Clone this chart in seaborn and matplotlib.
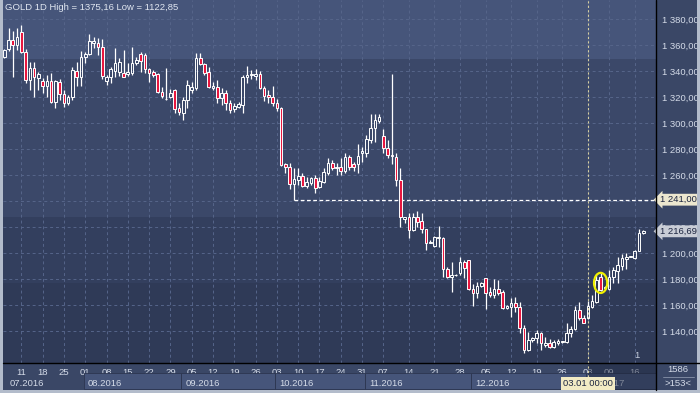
import matplotlib
matplotlib.use("Agg")
import matplotlib.pyplot as plt
import matplotlib.transforms as mtransforms
from matplotlib.patches import Rectangle, Ellipse
from matplotlib.lines import Line2D
import seaborn as sns
import pandas as pd

# Daily GOLD candles, 05.07.2016 .. 18.01.2017
opens = [1350.5, 1356.6, 1363.8, 1360.0, 1369.7, 1354.9, 1333.1, 1342.0, 1334.4, 1332.3,
         1328.4, 1332.3, 1316.4, 1331.3, 1322.0, 1315.1, 1319.7, 1340.0, 1335.1, 1350.5,
         1352.8, 1361.3, 1361.8, 1358.2, 1332.5, 1335.1, 1340.3, 1339.5, 1338.2, 1337.7,
         1338.7, 1345.9, 1352.8, 1352.3, 1341.3, 1339.5, 1337.7, 1323.6, 1318.6, 1320.2,
         1325.4, 1311.3, 1307.4, 1317.7, 1325.4, 1326.7, 1349.7, 1345.1, 1339.5, 1326.7,
         1327.4, 1319.0, 1322.8, 1315.1, 1310.5, 1312.5, 1313.8, 1335.1, 1336.9, 1336.4,
         1337.7, 1326.7, 1321.5, 1319.7, 1315.6, 1311.3, 1268.5, 1265.9, 1253.1, 1256.2,
         1259.2, 1251.5, 1254.1, 1257.4, 1251.0, 1254.9, 1261.8, 1269.0, 1265.1, 1265.9,
         1263.3, 1273.6, 1268.2, 1268.2, 1277.2, 1277.2, 1286.9, 1296.4, 1301.8, 1290.0,
         1280.5, 1275.2, 1274.1, 1256.2, 1225.9, 1227.4, 1217.7, 1227.4, 1224.9, 1218.2,
         1207.6, 1205.6, 1211.3, 1211.3, 1187.4, 1181.3, 1182.8, 1184.4, 1193.3, 1194.6,
         1172.1, 1169.5, 1174.6, 1180.5, 1170.0, 1167.9, 1172.1, 1170.0, 1157.4, 1158.7,
         1161.8, 1158.7, 1142.1, 1125.4, 1133.1, 1134.4, 1138.7, 1129.2, 1130.5, 1128.0,
         1131.0, 1131.7, 1131.8, 1138.2, 1141.3, 1156.1, 1150.3, 1149.7, 1158.7, 1162.6,
         1181.3, 1173.0, 1172.1, 1181.8, 1186.4, 1190.0, 1195.1, 1197.0, 1195.9, 1201.8,
         1215.1]
highs = [1356.6, 1373.0, 1370.8, 1372.8, 1375.16, 1356.6, 1347.2, 1347.2, 1339.5, 1334.4,
         1336.9, 1338.2, 1333.0, 1333.6, 1325.4, 1321.5, 1343.3, 1347.2, 1355.4, 1354.9,
         1368.2, 1366.4, 1365.1, 1364.3, 1336.9, 1343.3, 1357.4, 1350.0, 1356.1, 1345.9,
         1358.7, 1351.0, 1354.9, 1354.1, 1342.0, 1340.8, 1338.2, 1327.4, 1342.0, 1325.9,
         1325.9, 1315.1, 1320.2, 1333.1, 1331.8, 1353.6, 1353.6, 1345.9, 1343.3, 1331.8,
         1333.1, 1326.7, 1325.4, 1317.7, 1315.1, 1316.4, 1336.9, 1343.8, 1340.8, 1341.3,
         1340.0, 1328.5, 1325.4, 1328.5, 1318.2, 1312.1, 1269.0, 1269.0, 1265.1, 1265.1,
         1261.3, 1258.7, 1258.7, 1260.0, 1258.7, 1265.1, 1272.8, 1271.5, 1269.0, 1273.3,
         1276.7, 1275.4, 1270.3, 1283.6, 1281.3, 1290.8, 1306.9, 1306.9, 1306.9, 1295.1,
         1286.9, 1337.7, 1276.7, 1265.1, 1228.0, 1231.0, 1231.0, 1232.6, 1230.5, 1218.5,
         1210.0, 1213.1, 1220.8, 1212.6, 1189.0, 1193.3, 1183.5, 1196.6, 1194.6, 1195.0,
         1176.1, 1177.9, 1177.4, 1181.0, 1173.6, 1179.7, 1179.2, 1171.5, 1160.0, 1165.1,
         1165.9, 1162.6, 1144.6, 1139.5, 1135.1, 1140.8, 1139.5, 1135.6, 1133.6, 1133.1,
         1133.6, 1132.5, 1145.9, 1143.8, 1159.2, 1162.6, 1152.3, 1163.3, 1167.7, 1183.6,
         1184.4, 1175.0, 1186.9, 1189.5, 1197.2, 1199.2, 1200.2, 1197.6, 1202.3, 1218.2,
         1217.7]
lows = [1349.7, 1355.0, 1335.6, 1356.0, 1353.6, 1330.5, 1325.4, 1320.2, 1325.4, 1322.8,
        1320.2, 1315.1, 1311.3, 1317.7, 1312.5, 1313.8, 1317.7, 1328.4, 1328.4, 1345.9,
        1352.3, 1357.4, 1352.3, 1333.6, 1329.2, 1330.5, 1335.6, 1336.0, 1335.1, 1336.1,
        1336.9, 1344.6, 1339.5, 1338.7, 1331.8, 1335.1, 1322.8, 1319.0, 1317.7, 1319.0,
        1307.9, 1306.1, 1302.3, 1311.3, 1322.8, 1325.4, 1344.6, 1336.9, 1326.7, 1325.4,
        1315.1, 1313.8, 1310.0, 1307.4, 1308.7, 1311.3, 1307.4, 1331.0, 1333.6, 1333.1,
        1325.9, 1317.2, 1315.6, 1313.1, 1309.5, 1266.9, 1261.8, 1249.0, 1241.0, 1252.3,
        1251.0, 1249.7, 1252.3, 1245.9, 1249.7, 1254.1, 1260.0, 1263.8, 1260.0, 1260.0,
        1261.3, 1263.8, 1263.3, 1261.3, 1270.3, 1274.1, 1284.4, 1285.6, 1299.7, 1276.7,
        1272.8, 1268.5, 1251.5, 1220.0, 1222.8, 1211.3, 1217.2, 1220.3, 1215.1, 1202.3,
        1207.4, 1204.9, 1204.9, 1181.8, 1180.5, 1170.3, 1182.3, 1183.1, 1180.5, 1171.5,
        1159.2, 1165.1, 1174.1, 1156.6, 1166.4, 1165.1, 1167.7, 1156.6, 1156.6, 1150.5,
        1154.9, 1138.2, 1122.85, 1124.9, 1131.8, 1130.5, 1125.4, 1128.0, 1126.7, 1126.7,
        1129.2, 1131.0, 1130.5, 1135.6, 1140.8, 1148.5, 1145.9, 1149.0, 1157.4, 1161.8,
        1170.8, 1172.0, 1171.5, 1176.7, 1176.7, 1186.9, 1187.4, 1196.8, 1195.1, 1201.8,
        1215.0]
closes = [1356.1, 1363.8, 1360.0, 1366.4, 1354.9, 1333.1, 1342.0, 1335.6, 1337.7, 1328.4,
          1332.5, 1316.4, 1332.3, 1322.3, 1315.1, 1319.7, 1340.8, 1335.1, 1351.0, 1352.8,
          1363.3, 1363.3, 1358.2, 1336.1, 1335.1, 1341.3, 1346.4, 1347.2, 1335.6, 1339.5,
          1346.4, 1348.4, 1347.7, 1341.3, 1338.7, 1336.9, 1323.6, 1321.0, 1318.2, 1322.8,
          1310.5, 1308.7, 1317.7, 1329.2, 1327.9, 1349.7, 1345.1, 1338.7, 1327.4, 1328.4,
          1319.0, 1322.8, 1315.1, 1310.0, 1313.1, 1314.6, 1335.1, 1336.9, 1337.7, 1337.7,
          1326.7, 1321.0, 1319.7, 1315.1, 1311.3, 1267.7, 1266.4, 1253.1, 1256.7, 1259.2,
          1251.8, 1254.4, 1257.4, 1250.3, 1255.6, 1262.1, 1269.0, 1265.1, 1265.9, 1263.3,
          1273.6, 1266.4, 1266.4, 1274.9, 1278.5, 1287.7, 1296.4, 1302.3, 1304.4, 1280.5,
          1275.4, 1274.6, 1256.2, 1228.0, 1227.4, 1217.7, 1227.4, 1224.1, 1218.2, 1207.4,
          1208.1, 1212.0, 1212.0, 1187.4, 1181.3, 1183.1, 1183.0, 1193.3, 1188.2, 1172.1,
          1169.5, 1174.6, 1176.7, 1169.5, 1167.9, 1172.1, 1169.5, 1157.4, 1159.2, 1161.8,
          1158.2, 1142.1, 1125.4, 1133.1, 1134.4, 1138.7, 1130.5, 1131.0, 1128.0, 1131.8,
          1132.3, 1131.9, 1138.2, 1141.3, 1156.1, 1149.7, 1146.4, 1159.2, 1163.3, 1179.2,
          1171.5, 1174.0, 1181.8, 1186.9, 1190.8, 1195.9, 1197.2, 1197.4, 1201.8, 1215.1,
          1216.69]

week_idx = [4, 9, 14, 19, 24, 29, 34, 39, 44, 49, 54, 59, 64, 69,
            74, 79, 84, 89, 95, 101, 107, 113, 119, 125, 131, 137, 142, 148]
week_labels = ['11', '18', '25', '01', '08', '15', '22', '29', '05', '12', '19', '26', '03', '10',
               '17', '24', '31', '07', '14', '21', '28', '05', '12', '19', '26', '03', '09', '16']
month_idx = [0, 19, 42, 64, 85, 110, 137]
month_labels = ['07.2016', '08.2016', '09.2016', '10.2016', '11.2016', '12.2016', '01.2017']
price_ticks = [1140, 1160, 1180, 1200, 1220, 1240, 1260, 1280, 1300, 1320, 1340, 1360, 1380]

support_level = 1241.0
support_idx = 68
cursor_idx = 137
marked_idx = 140
last_price = closes[-1]

df = pd.DataFrame({'open': opens, 'high': highs, 'low': lows, 'close': closes})
df['idx'] = range(len(df))
df['up'] = df['close'] >= df['open']
df['top'] = df[['open', 'close']].max(axis=1)
df['bot'] = df[['open', 'close']].min(axis=1)

sns.set_theme(style="dark")
plt.rcParams['font.family'] = ['Liberation Sans', 'DejaVu Sans']

W, H = 700, 393
fig = plt.figure(figsize=(W / 100, H / 100), dpi=100, facecolor='#3a4766')
ax = fig.add_axes([3 / W, 30 / H, 653 / W, 363 / H])
ax.set_facecolor('#2f3a57')
for s in ax.spines.values():
    s.set_visible(False)

# stepped background bands
for y0, y1, col in [(0.837, 1.0, '#46557a'), (0.402, 0.837, '#3b4869'),
                    (0.220, 0.402, '#333f5e'), (0.0, 0.220, '#2f3a57')]:
    ax.add_patch(Rectangle((0, y0), 1, y1 - y0, transform=ax.transAxes,
                           facecolor=col, edgecolor='none', zorder=0))

ax.set_xlim(-0.3, 153.0)
ax.set_ylim(1115.4, 1394.6)

# grid
for t in week_idx:
    ax.axvline(t, color='#56658a', lw=0.7, ls=(0, (3, 3)), zorder=1)
for p in price_ticks:
    ax.axhline(p, color='#56658a', lw=0.7, ls=(0, (3, 3)), zorder=1)

# candles
ax.vlines(df['idx'], df['top'], df['high'], color='white', lw=0.9, zorder=3)
ax.vlines(df['idx'], df['low'], df['bot'], color='white', lw=0.9, zorder=3)
heights = (df['top'] - df['bot']).clip(lower=0.4)
fills = ['none' if u else '#e8173f' for u in df['up']]
ax.bar(df['idx'], heights, bottom=df['bot'], width=0.62, color=fills,
       edgecolor='white', linewidth=0.7, zorder=4)

# support line and cursor
ax.hlines(support_level, support_idx, 153.0, color='white', lw=0.9, ls=(0, (3, 2)), zorder=2)
ax.axvline(cursor_idx, color='#d6cfa0', lw=0.8, ls=(0, (2, 2)), zorder=2)
ax.add_patch(Ellipse((marked_idx, 1177), 3.1, 15.5, facecolor='none',
                     edgecolor='#f0f000', lw=1.6, zorder=5))

def fmt_price(v):
    whole = int(v)
    cents = int(round((v - whole) * 100))
    return f"{whole // 1000} {whole % 1000:03d},{cents:02d}"

# right price axis (the 1240 label sits under the 1241 marker box)
ax.yaxis.tick_right()
ax.set_yticks(price_ticks)
ax.set_yticklabels(['' if abs(p - support_level) < 5 else fmt_price(p) for p in price_ticks])
ax.tick_params(axis='y', length=0, pad=4, labelsize=6.8, labelcolor='#d4dbe8')
ax.tick_params(axis='x', length=0, pad=3.5, labelsize=6.8, labelcolor='#d4dbe8')
ax.set_xticks(week_idx)
ax.set_xticklabels(week_labels)
ax.grid(False)

ax.text(1.006, support_level, fmt_price(support_level), transform=ax.get_yaxis_transform(),
        ha='left', va='center', fontsize=6.8, color='#1c2540', zorder=6,
        bbox=dict(boxstyle='larrow,pad=0.15', facecolor='#ece7cf', edgecolor='none'))
ax.text(1.006, last_price, fmt_price(last_price), transform=ax.get_yaxis_transform(),
        ha='left', va='center', fontsize=6.8, color='#1c2540', zorder=6,
        bbox=dict(boxstyle='larrow,pad=0.15', facecolor='#c9cdd6', edgecolor='none'))

# month row
trans = mtransforms.blended_transform_factory(ax.transData, fig.transFigure)
for i, (m, lab) in enumerate(zip(month_idx, month_labels)):
    left = m - 0.4
    right = month_idx[i + 1] - 0.4 if i + 1 < len(month_idx) else 153.0
    if i > 0:
        ax.add_patch(Rectangle((left, 4 / H), right - left, 16 / H, transform=trans,
                               facecolor='#46557a', edgecolor='#2c3650', lw=0.6,
                               clip_on=False, zorder=1))
    ax.text(left + (1.6 if i == 0 else 1.0), 9.5 / H, lab, transform=trans, ha='left',
            va='center', fontsize=6.8, color='#d4dbe8', clip_on=False, zorder=2)

# future overlay + cursor date box
fig.add_artist(Rectangle((588 / W, 3 / H), 68 / W, 27 / H, transform=fig.transFigure,
                         facecolor='#1a2238', alpha=0.45, edgecolor='none'))
fig.add_artist(Line2D([588 / W, 588 / W], [16 / H, 30 / H], color='#d6cfa0', lw=0.8,
                      ls=(0, (2, 2))))
fig.text(588 / W, 9.5 / H, '03.01 00:00', ha='center', va='center', fontsize=6.8,
         color='#1c2540', bbox=dict(boxstyle='square,pad=0.25', facecolor='#f2ebc4',
                                    edgecolor='none'))

# title and small markers
fig.text(5 / W, 1 - 8 / H, 'GOLD 1D High = 1375,16 Low = 1122,85', ha='left', va='center',
         fontsize=6.8, color='#e0e6f0')
fig.text(637 / W, 1 - 355 / H, '1', ha='center', va='center', fontsize=6.8, color='#c8d0e0')
fig.text(678 / W, 1 - 370 / H, '1586', ha='center', va='center', fontsize=6.8, color='#d4dbe8')
fig.text(678 / W, 1 - 384 / H, '>153<', ha='center', va='center', fontsize=6.8, color='#d4dbe8')
fig.add_artist(Line2D([663 / W, 694 / W], [1 - 377 / H, 1 - 377 / H], color='#8893aa', lw=0.6))

# frame lines and outer border
fig.add_artist(Line2D([3 / W, 1], [30 / H, 30 / H], color='black', lw=1.0))
fig.add_artist(Line2D([656 / W, 656 / W], [3 / H, 1], color='black', lw=1.0))
for rect in [(0, 0, 3 / W, 1), (0, 0, 1, 3 / H), (1 - 3 / W, 0, 3 / W, 1)]:
    fig.add_artist(Rectangle(rect[:2], rect[2], rect[3], transform=fig.transFigure,
                             facecolor='#b3bccb', edgecolor='none'))

fig.savefig('out.png', dpi=100, facecolor=fig.get_facecolor())
